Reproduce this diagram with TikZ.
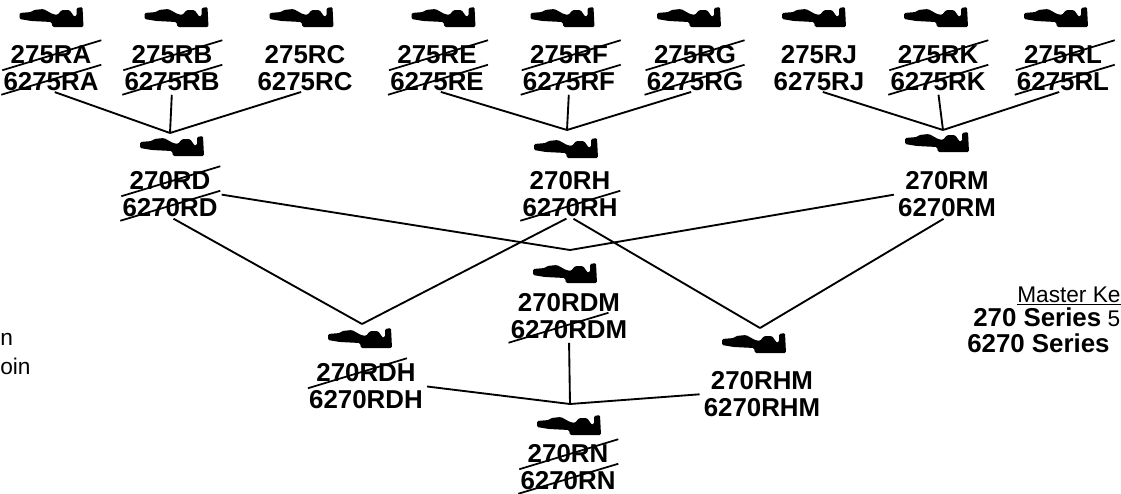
\documentclass[tikz,border=0pt]{standalone}
\usepackage{fontspec}
\setmainfont{Liberation Sans}

% strike lines over the first / second line of a label
\newcommand{\strktop}[1]{\draw[strk] ([shift={(-1,25)}]#1.north west) -- ++(99,-30);}
\newcommand{\strkbot}[1]{\draw[strk] ([shift={(-2,4)}]#1.south west) -- ++(100,-30);}

\begin{document}
\begin{tikzpicture}[
		x=0.75pt, y=-0.75pt,
		every node/.style={inner sep=0pt},
		lbl/.style={align=center, font=\bfseries\fontsize{19.4}{20}\selectfont},
		conn/.style={line width=1.4pt, shorten <=3pt},
		strk/.style={line width=1.3pt},
		side/.style={font=\fontsize{17}{20}\selectfont, anchor=base west},
		keyblank/.pic={
			\fill[rounded corners=1pt] (-32,-4) -- (-20,-5) -- (-18,-7) -- (-8,-8) -- (1,-3) -- (6,-2) -- (10,-7) -- (18,-7)
				-- (23,0) -- (25,-1) -- (25,-9) -- (31,-10) -- (32,10) -- (1,10) -- (0,5) -- (-20,4) -- (-32,2) -- cycle;
		}
		]
		\useasboundingbox (0,0) rectangle (1121,493);
		
		% top row
		\node[lbl] (RA) at (51,68) {275RA\\6275RA};
		\node[lbl] (RB) at (172,68) {275RB\\6275RB};
		\node[lbl] (RC) at (305,68) {275RC\\6275RC};
		\node[lbl] (RE) at (437,68) {275RE\\6275RE};
		\node[lbl] (RF) at (569,68) {275RF\\6275RF};
		\node[lbl] (RG) at (695,68) {275RG\\6275RG};
		\node[lbl] (RJ) at (819,68) {275RJ\\6275RJ};
		\node[lbl] (RK) at (938,68) {275RK\\6275RK};
		\node[lbl] (RL) at (1063,68) {275RL\\6275RL};
		\foreach \kx in {51.5,176.5,301.5,443.5,562.5,689,814,936,1056}
			\pic at (\kx,17) {keyblank};
		
		% second row
		\node[lbl] (RD) at (170,194) {270RD\\6270RD};
		\node[lbl] (RH) at (570,194) {270RH\\6270RH};
		\node[lbl] (RM) at (947,194) {270RM\\6270RM};
		\pic at (172,146) {keyblank};
		\pic at (566,148) {keyblank};
		\pic at (937,142) {keyblank};
		
		% third row
		\node[lbl] (RDM) at (569,316) {270RDM\\6270RDM};
		\node[lbl] (RDH) at (366,386) {270RDH\\6270RDH};
		\node[lbl] (RHM) at (762,394) {270RHM\\6270RHM};
		\pic at (565,273) {keyblank};
		\pic at (360,338) {keyblank};
		\pic at (754,343) {keyblank};
		
		% bottom
		\node[lbl] (RN) at (568,467) {270RN\\6270RN};
		\pic at (569,425) {keyblank};
		
		\coordinate (jRD) at (170,133);
		\coordinate (jRH) at (567,130);
		\coordinate (jRM) at (943,130);
		\coordinate (jRDM) at (570,250);
		\coordinate (jRDH) at (362,324);
		\coordinate (jRHM) at (760,328);
		\coordinate (jRN) at (570,404);
		
		\foreach \a/\b in {RA/jRD,RB/jRD,RC/jRD,RE/jRH,RF/jRH,RG/jRH,RJ/jRM,RK/jRM,RL/jRM,
				RD/jRDH,RH/jRDH,RH/jRHM,RM/jRHM,RDM/jRN}
			\draw[conn] (\a.south) -- (\b);
		\draw[conn] (RD.east) -- (jRDM);
		\draw[conn] (RM.west) -- (jRDM);
		\draw[conn] (RDH.east) -- (jRN);
		\draw[conn] (RHM.west) -- (jRN);
		
		% struck out blanks
		\foreach \n in {RA,RB,RE,RF,RG,RK,RL,RD,RDH,RN}
			{\strktop{\n}}
		\foreach \n in {RA,RB,RE,RF,RG,RK,RL,RD,RH,RDM,RN}
			{\strkbot{\n}}
		
		% side texts
		\node[side] (lefta) at (0,345) {n};
		\node[side] (leftb) at (0,374) {oin};
		\node[side] (mkey) at (1017,302) {\underline{Master Ke}};
		\node[side] (ser1) at (973,326) {\textbf{\fontsize{19.4}{20}\selectfont 270 Series} 5};
		\node[side] (ser2) at (967,352) {\textbf{\fontsize{19.4}{20}\selectfont 6270 Series}};
\end{tikzpicture}
\end{document}
